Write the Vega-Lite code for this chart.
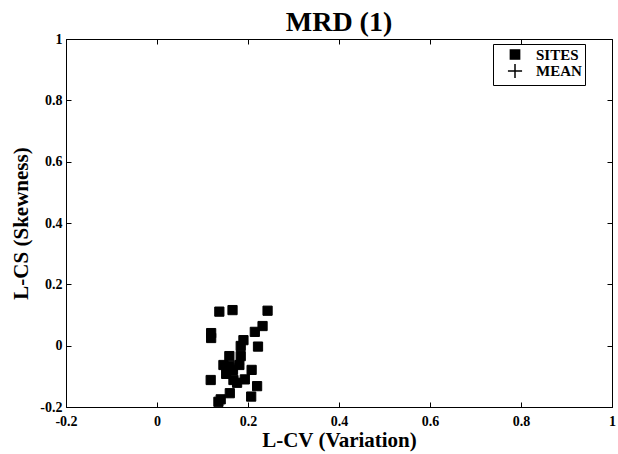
{
  "$schema": "https://vega.github.io/schema/vega-lite/v6.json",
  "width": 546,
  "height": 368,
  "autosize": {"type": "none"},
  "padding": {"left": 66, "top": 39, "right": 6, "bottom": 47},
  "background": "white",
  "config": {
    "font": "Liberation Serif, Times New Roman, serif",
    "view": {"stroke": "black", "strokeWidth": 1},
    "axis": {"grid": false, "domainColor": "black", "tickColor": "black", "labelColor": "black", "titleColor": "black", "labelFont": "Liberation Serif, Times New Roman, serif", "titleFont": "Liberation Serif, Times New Roman, serif", "labelFontWeight": "bold", "titleFontWeight": "bold", "labelFontSize": 14, "tickSize": -5, "labelPadding": 10, "labelExpr": "'' + datum.value"}
  },
  "title": {"text": "MRD (1)", "font": "Liberation Serif, Times New Roman, serif", "fontSize": 28, "fontWeight": "bold", "color": "black", "offset": -5, "anchor": "middle"},
  "data": {"values": [
    {"lcv": 0.137, "lcs": 0.111, "series": "SITES"},
    {"lcv": 0.166, "lcs": 0.116, "series": "SITES"},
    {"lcv": 0.243, "lcs": 0.114, "series": "SITES"},
    {"lcv": 0.232, "lcs": 0.064, "series": "SITES"},
    {"lcv": 0.215, "lcs": 0.045, "series": "SITES"},
    {"lcv": 0.119, "lcs": 0.041, "series": "SITES"},
    {"lcv": 0.119, "lcs": 0.025, "series": "SITES"},
    {"lcv": 0.190, "lcs": 0.018, "series": "SITES"},
    {"lcv": 0.184, "lcs": -0.001, "series": "SITES"},
    {"lcv": 0.222, "lcs": -0.003, "series": "SITES"},
    {"lcv": 0.159, "lcs": -0.034, "series": "SITES"},
    {"lcv": 0.184, "lcs": -0.034, "series": "SITES"},
    {"lcv": 0.146, "lcs": -0.063, "series": "SITES"},
    {"lcv": 0.159, "lcs": -0.066, "series": "SITES"},
    {"lcv": 0.181, "lcs": -0.063, "series": "SITES"},
    {"lcv": 0.167, "lcs": -0.079, "series": "SITES"},
    {"lcv": 0.208, "lcs": -0.079, "series": "SITES"},
    {"lcv": 0.152, "lcs": -0.092, "series": "SITES"},
    {"lcv": 0.168, "lcs": -0.112, "series": "SITES"},
    {"lcv": 0.176, "lcs": -0.121, "series": "SITES"},
    {"lcv": 0.193, "lcs": -0.110, "series": "SITES"},
    {"lcv": 0.118, "lcs": -0.112, "series": "SITES"},
    {"lcv": 0.220, "lcs": -0.132, "series": "SITES"},
    {"lcv": 0.160, "lcs": -0.155, "series": "SITES"},
    {"lcv": 0.207, "lcs": -0.166, "series": "SITES"},
    {"lcv": 0.140, "lcs": -0.175, "series": "SITES"},
    {"lcv": 0.135, "lcs": -0.183, "series": "SITES"},
    {"lcv": 0.176, "lcs": -0.060, "series": "MEAN"}
  ]},
  "layer": [
    {
      "mark": {"type": "point", "stroke": "black", "strokeWidth": 1, "opacity": 1},
      "encoding": {
        "x": {"field": "lcv", "type": "quantitative", "scale": {"domain": [-0.2, 1], "nice": false, "zero": false},
              "axis": {"orient": "bottom", "values": [-0.2, 0, 0.2, 0.4, 0.6, 0.8, 1], "title": "L-CV (Variation)", "titleFontSize": 21, "titlePadding": 1, "labelFlush": false, "labelOverlap": false, "labelPadding": 12}},
        "y": {"field": "lcs", "type": "quantitative", "scale": {"domain": [-0.2, 1], "nice": false, "zero": false},
              "axis": {"orient": "left", "values": [-0.2, 0, 0.2, 0.4, 0.6, 0.8, 1], "title": "L-CS (Skewness)", "titleFontSize": 21, "titlePadding": 8, "labelFlush": false, "labelOverlap": false, "labelPadding": 9}},
        "shape": {"field": "series", "type": "nominal", "scale": {"domain": ["SITES", "MEAN"], "range": ["square", "M-1,0H1M0,-1V1"]},
                  "legend": {"title": null, "orient": "none", "legendX": 427, "legendY": 5, "strokeColor": "black", "fillColor": "white", "padding": 3, "labelFont": "Liberation Serif, Times New Roman, serif", "labelFontWeight": "bold", "labelFontSize": 15, "labelColor": "black", "symbolStrokeColor": "black", "rowPadding": -5, "labelOffset": 13, "symbolOffset": 11, "labelExpr": "datum.label + '\u00a0\u00a0\u00a0\u00a0\u00a0\u00a0'"}},
        "fill": {"field": "series", "type": "nominal", "scale": {"domain": ["SITES", "MEAN"], "range": ["black", "transparent"]}},
        "size": {"field": "series", "type": "nominal", "scale": {"domain": ["SITES", "MEAN"], "range": [85, 200]}}
      }
    },
    {
      "mark": {"type": "point", "opacity": 0},
      "encoding": {
        "x": {"field": "lcv", "type": "quantitative", "axis": {"orient": "top", "values": [-0.2, 0, 0.2, 0.4, 0.6, 0.8, 1], "labels": false, "title": null, "domain": false}},
        "y": {"field": "lcs", "type": "quantitative", "axis": {"orient": "right", "values": [-0.2, 0, 0.2, 0.4, 0.6, 0.8, 1], "labels": false, "title": null, "domain": false}}
      }
    }
  ],
  "resolve": {"axis": {"x": "independent", "y": "independent"}}
}
